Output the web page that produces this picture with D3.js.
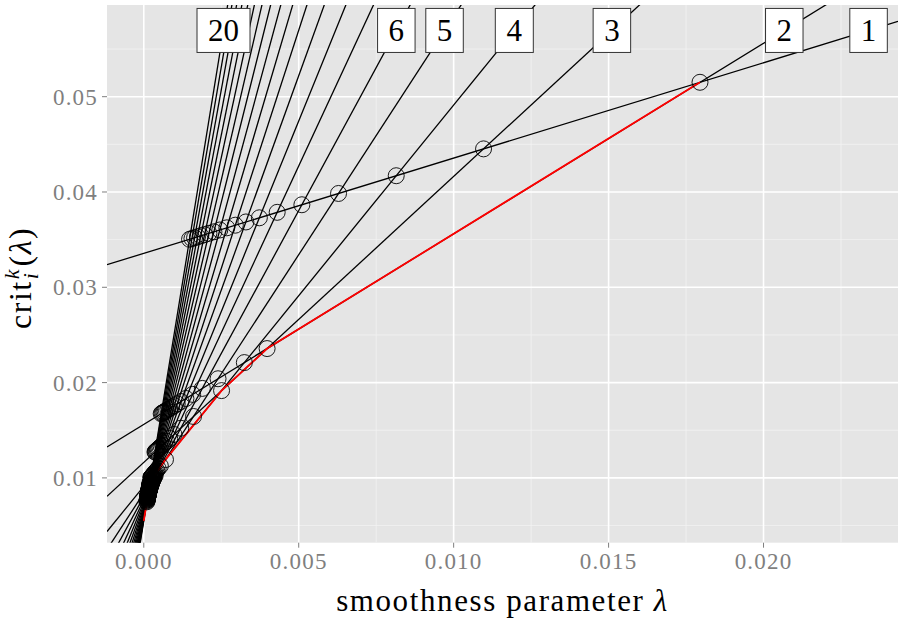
<!DOCTYPE html>
<html><head><meta charset="utf-8">
<script src="https://cdn.jsdelivr.net/npm/d3@7"></script>
<style>body{margin:0;background:#fff}svg{display:block}text{font-family:"Liberation Serif","DejaVu Serif",serif}</style>
</head><body><svg id="c" width="899" height="618"></svg>
<script>
// model size k (slope of each line) and its loss (intercept)
const segments = [1,2,3,4,5,6,7,8,9,10,11,12,13,14,15,16,17,18,19,20];
const losses = [0.03356,0.01561,0.01163,0.00912,0.00842,0.00805,0.00773,0.00745,0.00720,0.00697,
                0.00676,0.00657,0.00640,0.00624,0.00609,0.00595,0.00582,0.00570,0.00559,0.00549];
const labeledSegments = [1,2,3,4,5,6,20];
const labelY = 0.05695;
const xTicks = [0,0.005,0.010,0.015,0.020];
const xMinor = [0.0025,0.0075,0.0125,0.0175,0.0225];
const yTicks = [0.01,0.02,0.03,0.04,0.05];
const yMinor = [0.005,0.015,0.025,0.035,0.045,0.055];
const xDomain = [-0.001187, 0.02434];
const yDomain = [0.0032, 0.05962];

const svg = d3.select("#c");
const P = {l:107, r:898, t:5, b:542.7};
const x = d3.scaleLinear().domain(xDomain).range([P.l,P.r]);
const y = d3.scaleLinear().domain(yDomain).range([P.b,P.t]);

svg.append("defs").append("clipPath").attr("id","clip")
  .append("rect").attr("x",P.l).attr("y",P.t).attr("width",P.r-P.l).attr("height",P.b-P.t);

svg.append("rect").attr("x",P.l).attr("y",P.t).attr("width",P.r-P.l).attr("height",P.b-P.t).attr("fill","#e5e5e5");
const grid = svg.append("g");
xMinor.forEach(v=>grid.append("line").attr("x1",x(v)).attr("x2",x(v)).attr("y1",P.t).attr("y2",P.b).attr("stroke","#f2f2f2").attr("stroke-width",0.8));
yMinor.forEach(v=>grid.append("line").attr("y1",y(v)).attr("y2",y(v)).attr("x1",P.l).attr("x2",P.r).attr("stroke","#f2f2f2").attr("stroke-width",0.8));
xTicks.forEach(v=>grid.append("line").attr("x1",x(v)).attr("x2",x(v)).attr("y1",P.t).attr("y2",P.b).attr("stroke","#fff").attr("stroke-width",1.6));
yTicks.forEach(v=>grid.append("line").attr("y1",y(v)).attr("y2",y(v)).attr("x1",P.l).attr("x2",P.r).attr("stroke","#fff").attr("stroke-width",1.6));

const lines = segments.map((k,i)=>({k, L:losses[i]}));
const plot = svg.append("g").attr("clip-path","url(#clip)");
lines.forEach(d=>{
  plot.append("line").attr("x1",x(xDomain[0])).attr("y1",y(d.L+d.k*xDomain[0]))
    .attr("x2",x(xDomain[1])).attr("y2",y(d.L+d.k*xDomain[1]))
    .attr("stroke","#000").attr("stroke-width",1.3);
});

// lower envelope from lambda = 0
let env = [];
let cur = lines.reduce((a,b)=> (b.L<a.L || (b.L===a.L && b.k>a.k)) ? b : a);
let lam = 0;
env.push([0, cur.L]);
while(true){
  let best=null, bl=Infinity;
  lines.forEach(o=>{ if(o.k<cur.k){ const l=(o.L-cur.L)/(cur.k-o.k); if(l>lam-1e-12 && l<bl){bl=l;best=o;} }});
  if(!best) break;
  lam=bl; cur=best; env.push([lam, cur.L+cur.k*lam]);
}
plot.append("path").datum(env).attr("fill","none").attr("stroke","#ff0000").attr("stroke-width",1.8)
  .attr("d", d3.line().x(d=>x(d[0])).y(d=>y(d[1])));

// all pairwise intersections
const pts=[];
for(let a=0;a<lines.length;a++) for(let b=a+1;b<lines.length;b++){
  const A=lines[a],B=lines[b]; const l=(A.L-B.L)/(B.k-A.k); pts.push([l, A.L+A.k*l]);
}
plot.selectAll("circle").data(pts).join("circle").attr("cx",d=>x(d[0])).attr("cy",d=>y(d[1])).attr("r",8)
  .attr("fill","none").attr("stroke","#000").attr("stroke-width",0.9);

// labels
labeledSegments.forEach(k=>{
  const d=lines[k-1]; const lx=(labelY-d.L)/d.k;
  const g=svg.append("g");
  const t=g.append("text").attr("x",x(lx)).attr("y",y(labelY)).attr("text-anchor","middle")
    .attr("dominant-baseline","central").attr("font-size",31).attr("fill","#000").text(k);
  const bb=t.node().getBBox();
  g.insert("rect","text").attr("x",x(lx)-(bb.width/2+11)).attr("y",y(labelY)-22).attr("width",bb.width+22).attr("height",44)
    .attr("fill","#fff").attr("stroke","#333").attr("stroke-width",1);
});

// axes
const ax=svg.append("g");
xTicks.forEach(v=>{
  ax.append("line").attr("x1",x(v)).attr("x2",x(v)).attr("y1",P.b).attr("y2",P.b+5).attr("stroke","#7f7f7f").attr("stroke-width",1);
  ax.append("text").attr("x",x(v)).attr("y",P.b+26).attr("text-anchor","middle").attr("font-size",23).attr("letter-spacing",1.2).attr("fill","#7f7f7f").text(v.toFixed(3));
});
yTicks.forEach(v=>{
  ax.append("line").attr("x1",P.l-5).attr("x2",P.l).attr("y1",y(v)).attr("y2",y(v)).attr("stroke","#7f7f7f").attr("stroke-width",1);
  ax.append("text").attr("x",P.l-9).attr("y",y(v)).attr("dy","0.35em").attr("text-anchor","end").attr("font-size",23).attr("letter-spacing",1.2).attr("fill","#7f7f7f").text(v.toFixed(2));
});
const xt=ax.append("text").attr("x",(P.l+P.r)/2).attr("y",611).attr("text-anchor","middle").attr("font-size",31).attr("letter-spacing",1.6).attr("fill","#000");
xt.append("tspan").text("smoothness parameter ");
xt.append("tspan").attr("font-style","italic").text("λ");

// y title: crit_i^k(λ)
const yg=ax.append("g").attr("transform",`translate(31,${(P.t+P.b)/2+4}) rotate(-90)`);
const t1=yg.append("text").attr("font-size",32).attr("letter-spacing",1.5).text("crit");
const w1=t1.node().getComputedTextLength();
const sup=yg.append("text").attr("font-size",22).attr("font-style","italic").attr("y",-12).text("k");
const sub=yg.append("text").attr("font-size",22).attr("font-style","italic").attr("y",7).text("i");
const w2=Math.max(sup.node().getComputedTextLength(),sub.node().getComputedTextLength());
const t3=yg.append("text").attr("font-size",32).attr("letter-spacing",1.5).text("(");
t3.append("tspan").attr("font-style","italic").text("λ");
t3.append("tspan").text(")");
const w3=t3.node().getComputedTextLength();
const total=w1+w2+4+w3;
t1.attr("x",-total/2); sup.attr("x",-total/2+w1+1); sub.attr("x",-total/2+w1+1); t3.attr("x",-total/2+w1+w2+4);
</script></body></html>
